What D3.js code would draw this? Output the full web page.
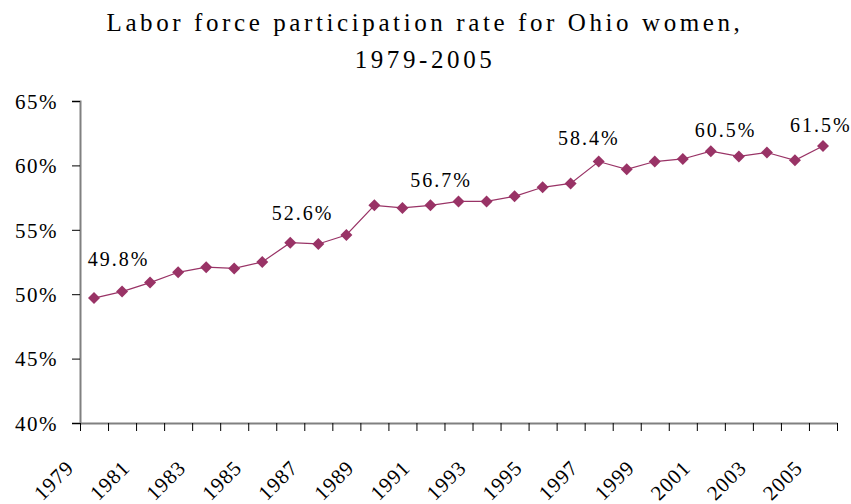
<!DOCTYPE html>
<html>
<head>
<meta charset="utf-8">
<script src="https://cdn.jsdelivr.net/npm/d3@7"></script>
<style>
  body { margin: 0; background: #fff; }
  svg text { font-family: "Liberation Serif", "Times New Roman", serif; fill: #000; }
</style>
</head>
<body>
<div id="chart"></div>
<script>
// Chart data
var years = [1979, 1980, 1981, 1982, 1983, 1984, 1985, 1986, 1987, 1988, 1989, 1990, 1991,
  1992, 1993, 1994, 1995, 1996, 1997, 1998, 1999, 2000, 2001, 2002, 2003, 2004, 2005];
var rates = [49.7, 50.2, 50.9, 51.7, 52.1, 52.0, 52.5, 54.0, 53.9, 54.6, 56.9, 56.7, 56.9,
  57.2, 57.2, 57.6, 58.3, 58.6, 60.3, 59.7, 60.3, 60.5, 61.1, 60.7, 61.0, 60.4, 61.5];
var yTicks = [40, 45, 50, 55, 60, 65];
var xTickLabels = [1979, 1981, 1983, 1985, 1987, 1989, 1991, 1993, 1995, 1997, 1999, 2001, 2003, 2005];

// text annotations, anchored in data units (year, percent)
var noteText = ["49.8%", "52.6%", "56.7%", "58.4%", "60.5%", "61.5%"];
var noteYear = [1979.88, 1986.44, 1991.38, 1996.65, 2001.53, 2004.92];
var noteLevel = [52.2, 55.74, 58.3, 61.6, 62.2, 62.6];

var titleLines = ["Labor force participation rate for Ohio women,", "1979-2005"];

// Set up the svg and chart area
var svgWidth = 851;
var svgHeight = 504;
var margin = {top: 101, right: 14, bottom: 81, left: 80};
var width = svgWidth - margin.left - margin.right;
var height = svgHeight - margin.top - margin.bottom;

var svg = d3.select("#chart").append("svg")
  .attr("width", svgWidth).attr("height", svgHeight);

var chartGroup = svg.append("g")
  .attr("transform", `translate(${margin.left}, ${margin.top})`);

// scales: one category slot per year, ticks sit between years
var xScale = d3.scaleLinear()
  .domain([years[0] - 0.5, years[years.length - 1] + 0.5])
  .range([0, width]);
var yScale = d3.scaleLinear()
  .domain([40, 65])
  .range([height, 0]);

var color = "#993366";
var axisColor = "#808080";

// Title
svg.append("g").selectAll("text")
  .data(titleLines).enter().append("text")
  .attr("x", 425)
  .attr("y", (d, i) => 31 + i * 37)
  .attr("text-anchor", "middle")
  .attr("font-size", "25px")
  .attr("letter-spacing", "3.6px")
  .text(d => d);

// Y axis
var yAxis = d3.axisLeft(yScale)
  .tickValues(yTicks)
  .tickSize(8)
  .tickPadding(14)
  .tickFormat(d => d + "%");
var yAxisDraw = chartGroup.append("g").call(yAxis);
yAxisDraw.select(".domain").attr("stroke", axisColor).attr("stroke-width", 2);
yAxisDraw.selectAll(".tick line").attr("stroke", "#000");
yAxisDraw.selectAll(".tick text")
  .attr("font-size", "21px")
  .attr("letter-spacing", "1.5px")
  .attr("dy", "0.35em");

// X axis: tick marks between the years
var xBounds = d3.range(years[0] - 0.5, years[years.length - 1] + 1, 1);
var xAxis = d3.axisBottom(xScale)
  .tickValues(xBounds)
  .tickSize(8)
  .tickSizeOuter(0)
  .tickFormat("");
var xAxisDraw = chartGroup.append("g")
  .attr("transform", `translate(0, ${height})`)
  .call(xAxis);
xAxisDraw.select(".domain").attr("stroke", axisColor).attr("stroke-width", 2);
xAxisDraw.selectAll(".tick line").attr("stroke", "#000");

// rotated year labels
chartGroup.append("g").selectAll("text")
  .data(xTickLabels).enter().append("text")
  .attr("font-size", "21px")
  .attr("letter-spacing", "1px")
  .attr("text-anchor", "end")
  .attr("transform", d => `translate(${xScale(d) - 19}, ${height + 46}) rotate(-45)`)
  .text(d => d);

// Line and markers
var line = d3.line()
  .x((d, i) => xScale(years[i]))
  .y(d => yScale(d));

chartGroup.append("path")
  .datum(rates)
  .attr("fill", "none")
  .attr("stroke", color)
  .attr("stroke-width", 1.2)
  .attr("d", line);

var diamond = d3.symbol().type(d3.symbolSquare).size(72);
chartGroup.selectAll(".marker")
  .data(rates).enter().append("path")
  .attr("class", "marker")
  .attr("d", diamond)
  .attr("fill", color)
  .attr("transform", (d, i) => `translate(${xScale(years[i])}, ${yScale(d)}) rotate(45)`);

// annotations
chartGroup.append("g").selectAll("text")
  .data(noteText).enter().append("text")
  .attr("x", (d, i) => xScale(noteYear[i]))
  .attr("y", (d, i) => yScale(noteLevel[i]))
  .attr("text-anchor", "middle")
  .attr("font-size", "20px")
  .attr("letter-spacing", "2px")
  .text(d => d);
</script>
</body>
</html>
